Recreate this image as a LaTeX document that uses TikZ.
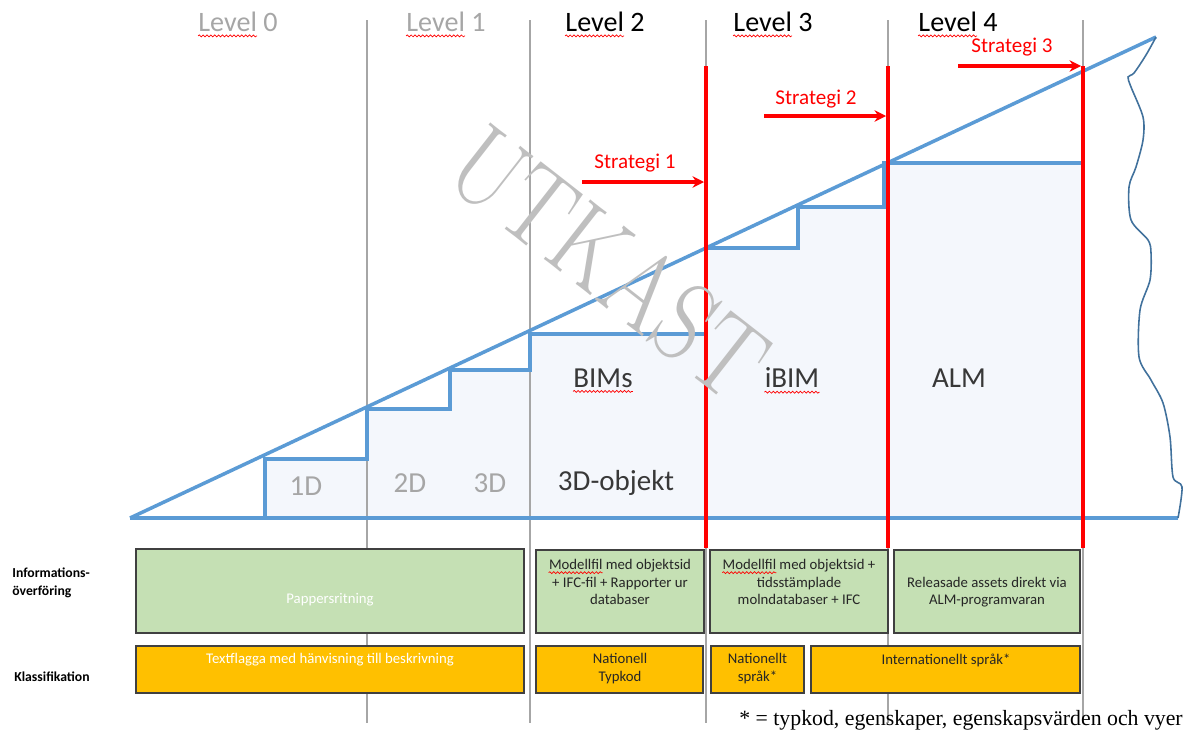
\documentclass[tikz,border=0pt]{standalone}
\usepackage{fontspec}
\setmainfont{Carlito}
\newfontfamily\timesfont{Liberation Serif}
\usetikzlibrary{arrows.meta,decorations.pathmorphing}

\definecolor{stairblue}{HTML}{5B9BD5}
\definecolor{stairfill}{HTML}{F4F7FC}
\definecolor{edgeblue}{HTML}{41719C}
\definecolor{gridgray}{HTML}{A6A6A6}
\definecolor{boxgreen}{HTML}{C5E0B4}
\definecolor{boxorange}{HTML}{FFC000}
\definecolor{boxedge}{HTML}{404040}
\definecolor{textdark}{HTML}{262626}
\definecolor{wmgray}{HTML}{BFBFBF}

\begin{document}
\begin{tikzpicture}[x=0.02cm, y=-0.02cm, >={Stealth[length=6.5pt,width=6.5pt]},
  level/.style={font=\fontsize{16}{19}\selectfont, inner sep=0pt},
  inner/.style={font=\fontsize{16.5}{19}\selectfont, text=black!78, inner sep=0pt},
  strat/.style={red, font=\fontsize{12}{14}\selectfont},
  redline/.style={red, line width=2.3pt},
  grid/.style={gridgray, line width=1.4pt},
  stairs/.style={stairblue, line width=2pt},
  greenbox/.style={fill=boxgreen, draw=boxedge, line width=0.6pt},
  orangebox/.style={fill=boxorange, draw=boxedge, line width=0.6pt},
  boxtext/.style={font=\fontsize{8.4}{10}\selectfont, align=center, text=textdark, inner sep=0pt},
  rowlabel/.style={font=\bfseries\fontsize{7.8}{10.2}\selectfont, align=left, anchor=west, inner sep=0pt},
  squiggle/.style={red, line width=0.4pt, decorate, decoration={snake, amplitude=0.55pt, segment length=2.2pt}}]
\useasboundingbox (0,0) rectangle (1185,730);

% stairs and triangle
\fill[stairfill] (265,518) |- (367,459) |- (450,409) |- (530,370) |- (706,334) |- (798,248) |- (884,207) |- (1083,163) -- (1083,518) -- cycle;
\foreach \x in {367,530,706,888,1083}
  \draw[grid] (\x,20) -- (\x,723);
\draw[stairs] (265,518) |- (367,459) |- (450,409) |- (530,370) |- (706,334) |- (798,248) |- (884,207) |- (1083,163) -- (1083,518);
\draw[stairs] (130,518) -- (1156,37);
\draw[stairs] (130,518) -- (1178,518);
\draw[edgeblue, line width=0.9pt] plot[smooth, tension=0.5] coordinates {(1156,37) (1146,55) (1134,73) (1128,77) (1131,87) (1143,117) (1143,140) (1136,167) (1129,187) (1131,220) (1148,240) (1151,253) (1150,280) (1140,310) (1139,357) (1151,380) (1163,403) (1170,437) (1173,477) (1182,487) (1178,518)};

% strategies
\foreach \x in {706,888,1083}
  \draw[redline] (\x,66) -- (\x,548);
\coordinate (s1from) at (582,182);
\coordinate (s1to) at (704,182);
\coordinate (s2from) at (764,116);
\coordinate (s2to) at (886,116);
\coordinate (s3from) at (958,66);
\coordinate (s3to) at (1081,66);
\draw[redline,->] (s1from) -- (s1to);
\draw[redline,->] (s2from) -- (s2to);
\draw[redline,->] (s3from) -- (s3to);
\node[strat] (strat1) at (635,163) {Strategi 1};
\node[strat] (strat2) at (816,99) {Strategi 2};
\node[strat] (strat3) at (1012,47) {Strategi 3};

% levels
\node[level, text=gridgray] (lvl0) at (238,22) {Level 0};
\node[level, text=gridgray] (lvl1) at (446,22) {Level 1};
\node[level] (lvl2) at (605,22) {Level 2};
\node[level] (lvl3) at (773,22) {Level 3};
\node[level] (lvl4) at (958,22) {Level 4};
\foreach \n in {lvl0,lvl1,lvl2,lvl3,lvl4}
  \draw[squiggle] ([yshift=-2.4pt]\n.base west) -- ++(59,0);

% labels in the stairs
\node[inner, text=gridgray] (d1) at (306,486) {1D};
\node[inner, text=gridgray] (d2) at (410,483) {2D};
\node[inner, text=gridgray] (d3) at (490,483) {3D};
\node[inner] (obj) at (616,483) {3D-objekt};
\node[inner] (bims) at (603,378) {BIMs};
\node[inner] (ibim) at (792,378) {iBIM};
\node[inner] (alm) at (959,378) {ALM};
\draw[squiggle] ([yshift=-2.4pt]bims.base west) -- ([yshift=-2.4pt]bims.base east);
\draw[squiggle] ([yshift=-2.4pt]ibim.base west) -- ([yshift=-2.4pt]ibim.base east);

% rows
\node[rowlabel] (info) at (12,583) {Informations-\\överföring};
\node[rowlabel] (klass) at (14,677) {Klassifikation};

\path[greenbox] (136,549) rectangle (524,633);
\path[greenbox] (536,550) rectangle (704,633);
\path[greenbox] (710,550) rectangle (888,633);
\path[greenbox] (894,550) rectangle (1080,633);
\node[boxtext, text=white] (papper) at (330,600) {Pappersritning};
\node[boxtext] (modell1) at (620,566) {Modellfil med objektsid};
\node[boxtext] (modell2) at (620,591) {+ IFC-fil + Rapporter ur\\databaser};
\node[boxtext] (moln1) at (799,566) {Modellfil med objektsid +};
\node[boxtext] (moln2) at (799,591) {tidsstämplade\\molndatabaser + IFC};
\node[boxtext] (release) at (987,592) {Releasade assets direkt via\\ALM-programvaran};
\draw[squiggle] ([yshift=-1.6pt]modell1.base west) -- ++(54,0);
\draw[squiggle] ([yshift=-1.6pt]moln1.base west) -- ++(54,0);

\path[orangebox] (136,646) rectangle (524,693);
\path[orangebox] (536,646) rectangle (703,693);
\path[orangebox] (711,646) rectangle (804,693);
\path[orangebox] (811,646) rectangle (1080,693);
\node[boxtext, text=white] (flagga) at (330,660) {Textflagga med hänvisning till beskrivning};
\node[boxtext] (typkod) at (620,668.5) {Nationell\\Typkod};
\node[boxtext] (natsprak) at (757.5,668.5) {Nationellt\\språk*};
\node[boxtext] (intsprak) at (946,660) {Internationellt språk*};

\node[font=\timesfont\fontsize{12.4}{14}\selectfont, anchor=west, inner sep=0pt] (note) at (739,720) {* = typkod, egenskaper, egenskapsvärden och vyer};

% watermark
\node[text=wmgray, font=\fontfamily{lmr}\fontsize{63}{63}\selectfont, rotate=-38] (utkast) at (609,262) {\scalebox{0.84}[1]{UTKAST}};
\end{tikzpicture}
\end{document}
